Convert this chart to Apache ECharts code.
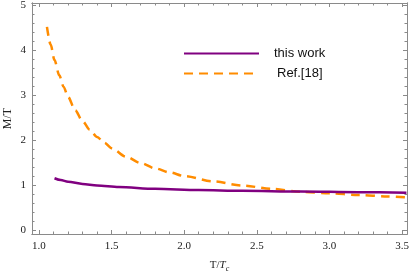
<!DOCTYPE html>
<html><head><meta charset="utf-8">
<script src="https://cdn.jsdelivr.net/npm/echarts@6/dist/echarts.min.js"></script>
<style>html,body{margin:0;padding:0;background:#fff}#c{width:409px;height:275px}</style>
</head><body><div id="c"></div>
<script>
const workX = [1.107, 1.15, 1.2, 1.3, 1.4, 1.55, 1.8, 2.1, 2.4, 2.8, 3.2, 3.53];
const workY = [1.15, 1.11, 1.075, 1.025, 0.99, 0.955, 0.915, 0.89, 0.87, 0.855, 0.84, 0.83];
const refX = [1.055, 1.08, 1.107, 1.14, 1.17, 1.2, 1.25, 1.3, 1.35, 1.4, 1.45, 1.5, 1.6, 1.7, 1.8, 1.9, 2.0, 2.2, 2.4, 2.6, 2.8, 3.0, 3.2, 3.4, 3.53];
const refY = [4.52, 4.13, 3.78, 3.44, 3.18, 2.96, 2.66, 2.42, 2.23, 2.07, 1.94, 1.82, 1.63, 1.49, 1.37, 1.28, 1.20, 1.08, 0.99, 0.915, 0.85, 0.815, 0.78, 0.745, 0.726];
const xMajor = [1.0, 1.5, 2.0, 2.5, 3.0, 3.5];
const xMinor = [1.1,1.2,1.3,1.4,1.6,1.7,1.8,1.9,2.1,2.2,2.3,2.4,2.6,2.7,2.8,2.9,3.1,3.2,3.3,3.4];
const yMajor = [0, 1, 2, 3, 4, 5];
const yMinor = [0.2,0.4,0.6,0.8,1.2,1.4,1.6,1.8,2.2,2.4,2.6,2.8,3.2,3.4,3.6,3.8,4.2,4.4,4.6,4.8];
const seriesNames = ['this work', 'Ref.[18]'];

const XMIN = 0.952, XMAX = 3.534, YMIN = -0.09, YMAX = 5.05;
const frame = '#8a8a8a';
const labelFont = {fontFamily: 'Liberation Serif', fontSize: 11, color: '#222'};

function xAx(pos, vals, len, labels, extra) {
  return Object.assign({
    type: 'value', position: pos, min: XMIN, max: XMAX,
    axisLine: {show: true, onZero: false, lineStyle: {color: frame, width: 1}},
    axisTick: {show: true, inside: true, length: len, customValues: vals, lineStyle: {color: frame}},
    axisLabel: labels ? Object.assign({show: true, customValues: vals, margin: 7, formatter: v => v.toFixed(1)}, labelFont) : {show: false},
    splitLine: {show: false}
  }, extra || {});
}
function yAx(pos, vals, len, labels, extra) {
  return Object.assign({
    type: 'value', position: pos, min: YMIN, max: YMAX,
    axisLine: {show: true, onZero: false, lineStyle: {color: frame, width: 1}},
    axisTick: {show: true, inside: true, length: len, customValues: vals, lineStyle: {color: frame}},
    axisLabel: labels ? Object.assign({show: true, customValues: vals, margin: 6, formatter: v => String(v)}, labelFont) : {show: false},
    splitLine: {show: false}
  }, extra || {});
}

const chart = echarts.init(document.getElementById('c'), null, {renderer: 'canvas'});
chart.setOption({
  animation: false,
  grid: {left: 32, right: 2, top: 3, bottom: 41, containLabel: false, outerBoundsMode: 'none'},
  legend: {
    orient: 'vertical', left: 183, top: 47, padding: 0, itemWidth: 75, itemHeight: 14, itemGap: 7,
    itemStyle: {opacity: 0},
    textStyle: {fontFamily: 'Liberation Sans', fontSize: 13, color: '#111'},
    data: [
      {name: seriesNames[0], textStyle: {padding: [0, 0, 0, 10]}},
      {name: seriesNames[1], textStyle: {padding: [0, 0, 0, 13]}}
    ]
  },
  xAxis: [
    xAx('bottom', xMajor, 4, true, {
      name: '{n|T/}{i|T}{s|c}', nameLocation: 'middle', nameGap: 24, nameMoveOverlap: false,
      nameTextStyle: {fontFamily: 'Liberation Serif', fontSize: 11, color: '#222',
        rich: {
          n: {fontFamily: 'Liberation Serif', fontSize: 11, color: '#222', lineHeight: 15},
          i: {fontFamily: 'Liberation Serif', fontSize: 11, fontStyle: 'italic', color: '#222', lineHeight: 15},
          s: {fontFamily: 'Liberation Serif', fontSize: 8, fontStyle: 'italic', color: '#222', verticalAlign: 'bottom', lineHeight: 15}
        }}
    }),
    xAx('bottom', xMinor, 2.5, false),
    xAx('top', xMajor, 4, false),
    xAx('top', xMinor, 2.5, false)
  ],
  yAxis: [
    yAx('left', yMajor, 4, true, {
      name: 'M/T', nameLocation: 'middle', nameGap: 18, nameRotate: 90, nameMoveOverlap: false,
      nameTextStyle: {fontFamily: 'Liberation Serif', fontSize: 12, color: '#222'}
    }),
    yAx('left', yMinor, 2.5, false),
    yAx('right', yMajor, 4, false),
    yAx('right', yMinor, 2.5, false)
  ],
  series: [
    {
      name: seriesNames[0], type: 'line', xAxisIndex: 0, yAxisIndex: 0,
      data: workX.map((x, i) => [x, workY[i]]),
      symbol: 'none', smooth: 0.3, smoothMonotone: 'x',
      lineStyle: {color: '#800080', width: 2.5}, itemStyle: {color: '#800080'}, z: 3
    },
    {
      name: seriesNames[1], type: 'line', xAxisIndex: 0, yAxisIndex: 0,
      data: refX.map((x, i) => [x, refY[i]]),
      symbol: 'none', smooth: 0.3, smoothMonotone: 'x',
      lineStyle: {color: '#ff8c00', width: 2.5, type: [9, 6]}, itemStyle: {color: '#ff8c00'}, z: 2
    }
  ]
});
</script></body></html>
